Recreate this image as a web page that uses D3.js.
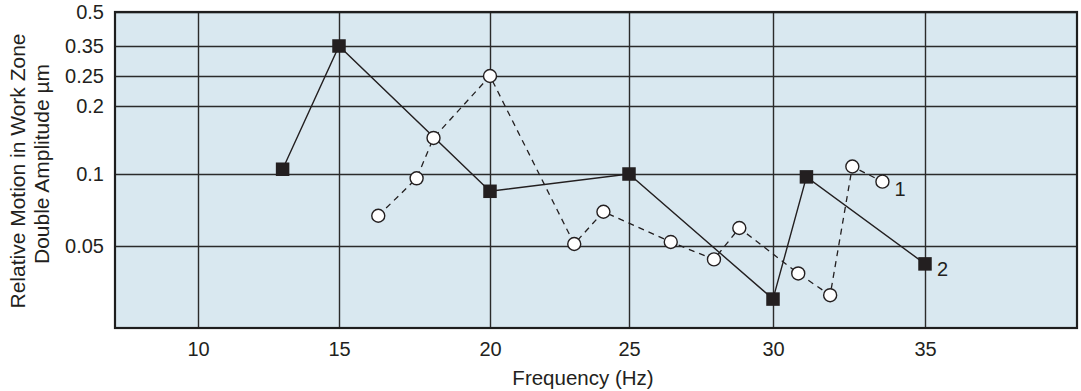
<!DOCTYPE html>
<html>
<head>
<meta charset="utf-8">
<script src="https://cdn.jsdelivr.net/npm/d3@7"></script>
<style>
  body { margin: 0; background: #fff; }
  svg { display: block; font-family: "Liberation Sans", Arial, sans-serif; }
</style>
</head>
<body>
<div id="chart"></div>
<script>
// tick values
const xTicks = [10, 15, 20, 25, 30, 35];
const yTicks = [0.05, 0.1, 0.2, 0.25, 0.35, 0.5];
const yTickLabels = ['0.05', '0.1', '0.2', '0.25', '0.35', '0.5'];

// series 1 (open circles, dashed)
const freq1 = [16.3, 17.57, 18.13, 20, 23.03, 24.08, 26.45, 27.95, 28.83, 30.83, 31.88, 32.61, 33.6];
const amp1 = [0.071, 0.097, 0.153, 0.25, 0.0514, 0.0738, 0.0528, 0.0455, 0.0625, 0.0408, 0.0335, 0.111, 0.0947];

// series 2 (filled squares, solid)
const freq2 = [13, 15, 20, 25, 30, 31.1, 35];
const amp2 = [0.107, 0.35, 0.088, 0.1, 0.0322, 0.098, 0.044];

const width = 1081;
const height = 391;
const margin = { top: 12, right: 4, bottom: 63, left: 115 };
const w = width - margin.left - margin.right;
const h = height - margin.top - margin.bottom;

const svg = d3.select('#chart')
  .append('svg')
  .attr('width', width)
  .attr('height', height);

const g = svg.append('g')
  .attr('transform', `translate(${margin.left},${margin.top})`);

// the printed grid is not evenly spaced, so both scales are piecewise
const x = d3.scaleLinear()
  .domain([7.06, 10, 15, 20, 25, 30, 35, 40])
  .range([0, 83, 224, 375, 514, 658, 810, w]);

const y = d3.scaleLinear()
  .domain([0.0225, 0.05, 0.1, 0.2, 0.25, 0.35, 0.5])
  .range([h, 234, 162, 94, 64, 34, 0]);

g.append('rect')
  .attr('width', w)
  .attr('height', h)
  .attr('fill', '#d9e8f0');

// grid
g.append('g')
  .attr('class', 'x-grid')
  .attr('transform', `translate(0,${h})`)
  .call(d3.axisBottom(x).tickValues(xTicks).tickSize(-h).tickFormat(''))
  .call(a => a.select('.domain').remove())
  .call(a => a.selectAll('line').attr('stroke', '#2b2b2b').attr('stroke-width', 1.4));

g.append('g')
  .attr('class', 'y-grid')
  .call(d3.axisLeft(y).tickValues(yTicks).tickSize(-w).tickFormat(''))
  .call(a => a.select('.domain').remove())
  .call(a => a.selectAll('line').attr('stroke', '#2b2b2b').attr('stroke-width', 1.4));

g.append('rect')
  .attr('width', w)
  .attr('height', h)
  .attr('fill', 'none')
  .attr('stroke', '#1e1e1e')
  .attr('stroke-width', 2.2);

// tick labels
g.append('g')
  .attr('transform', `translate(0,${h})`)
  .call(d3.axisBottom(x).tickValues(xTicks).tickSize(0).tickPadding(14))
  .call(a => a.select('.domain').remove())
  .call(a => a.selectAll('text').attr('font-size', 20).attr('fill', '#231f20')
    .attr('font-family', '"Liberation Sans", Arial, sans-serif'));

g.append('g')
  .call(d3.axisLeft(y).tickValues(yTicks).tickSize(0).tickPadding(11)
    .tickFormat((d, i) => yTickLabels[i]))
  .call(a => a.select('.domain').remove())
  .call(a => a.selectAll('text').attr('font-size', 20).attr('fill', '#231f20')
    .attr('font-family', '"Liberation Sans", Arial, sans-serif'));

// axis titles
svg.append('text')
  .attr('x', 583)
  .attr('y', 385)
  .attr('text-anchor', 'middle')
  .attr('font-size', 20.5)
  .attr('fill', '#231f20')
  .text('Frequency (Hz)');

svg.append('text')
  .attr('transform', 'translate(25,171) rotate(-90)')
  .attr('text-anchor', 'middle')
  .attr('font-size', 21)
  .attr('fill', '#231f20')
  .text('Relative Motion in Work Zone');

svg.append('text')
  .attr('transform', 'translate(49,164) rotate(-90)')
  .attr('text-anchor', 'middle')
  .attr('font-size', 21)
  .attr('fill', '#231f20')
  .text('Double Amplitude µm');

// lines
const data1 = freq1.map((f, i) => ({ f: f, a: amp1[i] }));
const data2 = freq2.map((f, i) => ({ f: f, a: amp2[i] }));

const line = d3.line()
  .x(d => x(d.f))
  .y(d => y(d.a));

g.append('path')
  .datum(data1)
  .attr('d', line)
  .attr('fill', 'none')
  .attr('stroke', '#231f20')
  .attr('stroke-width', 1.3)
  .attr('stroke-dasharray', '6,5');

g.append('path')
  .datum(data2)
  .attr('d', line)
  .attr('fill', 'none')
  .attr('stroke', '#231f20')
  .attr('stroke-width', 1.4);

// markers
g.selectAll('.pt1')
  .data(data1)
  .enter().append('circle')
  .classed('pt1', true)
  .attr('cx', d => x(d.f))
  .attr('cy', d => y(d.a))
  .attr('r', 6.5)
  .attr('fill', '#fff')
  .attr('stroke', '#231f20')
  .attr('stroke-width', 1.4);

const sq = 13.5;
g.selectAll('.pt2')
  .data(data2)
  .enter().append('rect')
  .classed('pt2', true)
  .attr('x', d => x(d.f) - sq / 2)
  .attr('y', d => y(d.a) - sq / 2)
  .attr('width', sq)
  .attr('height', sq)
  .attr('fill', '#231f20');

// series labels
const last1 = data1[data1.length - 1];
const last2 = data2[data2.length - 1];

g.append('text')
  .attr('x', x(last1.f) + 12)
  .attr('y', y(last1.a) + 14)
  .attr('font-size', 20)
  .attr('fill', '#231f20')
  .text('1');

g.append('text')
  .attr('x', x(last2.f) + 12)
  .attr('y', y(last2.a) + 12)
  .attr('font-size', 20)
  .attr('fill', '#231f20')
  .text('2');
</script>
</body>
</html>
